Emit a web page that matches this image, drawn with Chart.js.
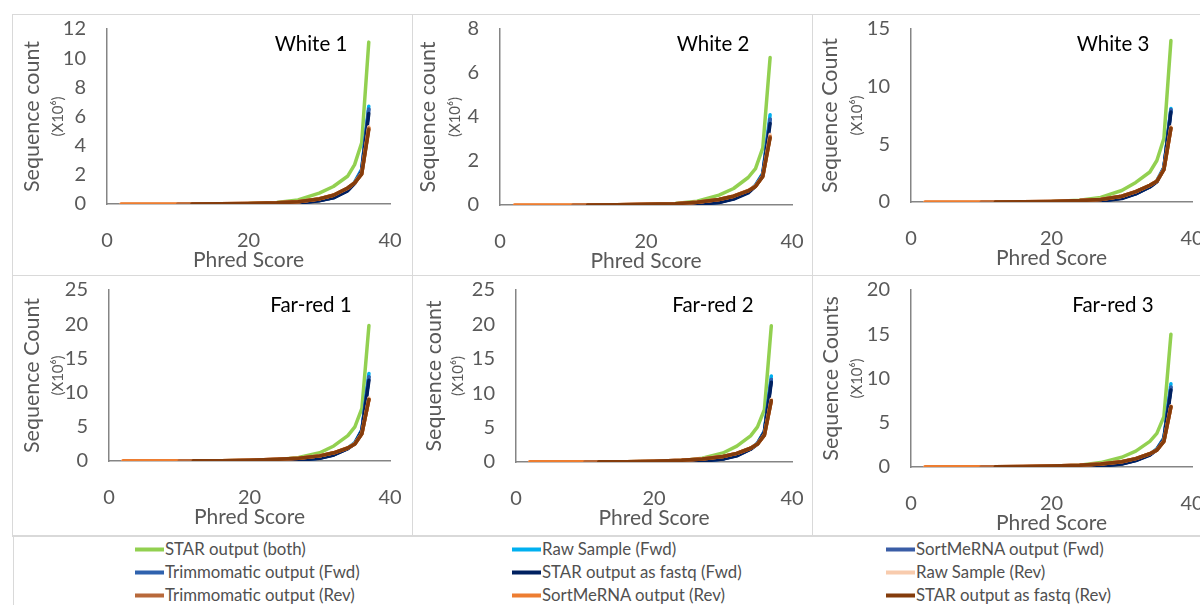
<!DOCTYPE html>
<html>
<head>
<meta charset="utf-8">
<script src="https://cdn.jsdelivr.net/npm/chart.js@4.4.0/dist/chart.umd.min.js"></script>
<style>
  body { margin: 0; background: #fff; width: 1200px; height: 605px; overflow: hidden; position: relative; font-family: Lato, "Open Sans", sans-serif; }
  .panel { position: absolute; width: 401px; height: 262px; border: 1px solid #d9d9d9; box-sizing: border-box; }
  .panel canvas { position: absolute; left: -1px; top: -1px; }
  #legend { position: absolute; left: 13px; top: 535px; width: 1200px; height: 80px; border: 1px solid #d9d9d9; box-sizing: border-box; }
  .item { position: absolute; font-size: 16.8px; color: #505050; line-height: 19px; white-space: nowrap; transform: translateY(-50%); }
  .item i { display: inline-block; width: 29px; height: 4px; vertical-align: middle; margin-right: 1px; position: relative; top: -1px; }
</style>
</head>
<body>
<div id="legend"></div>

<script>
// Phred score positions sampled from the curves
const phred = [2, 10, 12, 16, 20, 24, 27, 30, 32, 34, 35, 36, 37];

const seriesNames = [
  'STAR output (both)', 'Raw Sample (Fwd)', 'SortMeRNA output (Fwd)',
  'Trimmomatic output (Fwd)', 'STAR output as fastq (Fwd)', 'Raw Sample (Rev)',
  'Trimmomatic output (Rev)', 'SortMeRNA output (Rev)', 'STAR output as fastq (Rev)'
];
const seriesColors = ['#92d050', '#00b0f0', '#3a5da6', '#2f62ae', '#002060', '#f8cbad', '#b8693a', '#ed7d31', '#843c0c'];
// bottom -> top drawing order (index into seriesNames)
const drawOrder = [0, 1, 2, 3, 4, 5, 7, 6, 8];

const panelTitles = ['White 1', 'White 2', 'White 3', 'Far-red 1', 'Far-red 2', 'Far-red 3'];
const yTitles = ['Sequence count', 'Sequence count', 'Sequence Count', 'Sequence Count', 'Sequence count', 'Sequence Counts'];
const yMax = [12, 8, 15, 25, 25, 20];
const yStep = [2, 2, 5, 5, 5, 5];
const xTicks = [0, 20, 40];

// values in millions, one row per series (same order as seriesNames)
const white1 = [
  [null, null, 0, 0.01, 0.03, 0.1, 0.28, 0.75, 1.2, 1.9, 2.7, 4.2, 11.1],
  [null, null, 0, 0, 0.01, 0.03, 0.08, 0.25, 0.45, 0.95, 1.5, 2.4, 6.7],
  [null, null, 0, 0, 0.01, 0.03, 0.08, 0.24, 0.44, 0.93, 1.45, 2.3, 6.5],
  [null, null, 0, 0, 0.01, 0.03, 0.08, 0.24, 0.44, 0.93, 1.45, 2.3, 6.5],
  [null, null, 0, 0, 0.01, 0.02, 0.06, 0.22, 0.42, 0.9, 1.4, 2.2, 6.2],
  [0, 0, 0, 0.01, 0.03, 0.08, 0.16, 0.36, 0.62, 1.1, 1.47, 2.1, 5.3],
  [null, 0, 0, 0.01, 0.03, 0.08, 0.16, 0.36, 0.6, 1.08, 1.45, 2.08, 5.2],
  [0, 0, 0, 0.01, 0.03, 0.08, 0.16, 0.35, 0.6, 1.08, 1.45, 2.05, 5.2],
  [null, null, 0, 0.01, 0.03, 0.08, 0.15, 0.35, 0.6, 1.1, 1.45, 2.05, 5.1]
];
const white2 = [
  [null, null, 0, 0.01, 0.02, 0.07, 0.17, 0.45, 0.75, 1.25, 1.65, 2.6, 6.7],
  [null, null, 0, 0, 0.01, 0.02, 0.04, 0.13, 0.3, 0.6, 0.9, 1.45, 4.1],
  [null, null, 0, 0, 0.01, 0.02, 0.04, 0.12, 0.29, 0.58, 0.88, 1.4, 3.9],
  [null, null, 0, 0, 0.01, 0.02, 0.04, 0.12, 0.29, 0.58, 0.88, 1.4, 3.9],
  [null, null, 0, 0, 0.01, 0.01, 0.03, 0.11, 0.27, 0.55, 0.85, 1.35, 3.7],
  [0, 0, 0, 0.01, 0.03, 0.06, 0.12, 0.26, 0.41, 0.66, 0.86, 1.32, 3.2],
  [null, 0, 0, 0.01, 0.03, 0.06, 0.12, 0.25, 0.4, 0.65, 0.85, 1.3, 3.1],
  [0, 0, 0, 0.01, 0.03, 0.06, 0.12, 0.25, 0.4, 0.65, 0.85, 1.3, 3.1],
  [null, null, 0, 0.01, 0.03, 0.06, 0.12, 0.25, 0.4, 0.64, 0.84, 1.3, 3.05]
];
const white3 = [
  [null, null, 0, 0.01, 0.04, 0.15, 0.4, 1.0, 1.7, 2.6, 3.6, 5.5, 14.0],
  [null, null, 0, 0, 0.01, 0.05, 0.1, 0.35, 0.75, 1.35, 1.85, 3.0, 8.1],
  [null, null, 0, 0, 0.01, 0.05, 0.1, 0.34, 0.73, 1.32, 1.8, 2.95, 8.0],
  [null, null, 0, 0, 0.01, 0.05, 0.1, 0.34, 0.73, 1.32, 1.8, 2.95, 8.0],
  [null, null, 0, 0, 0.01, 0.04, 0.08, 0.3, 0.7, 1.3, 1.75, 2.9, 7.8],
  [0, 0, 0, 0.02, 0.05, 0.12, 0.23, 0.5, 0.9, 1.45, 1.85, 2.85, 6.5],
  [null, 0, 0, 0.02, 0.05, 0.12, 0.22, 0.5, 0.9, 1.45, 1.8, 2.8, 6.4],
  [0, 0, 0, 0.02, 0.05, 0.12, 0.22, 0.5, 0.9, 1.45, 1.8, 2.8, 6.4],
  [null, null, 0, 0.02, 0.05, 0.12, 0.22, 0.5, 0.9, 1.45, 1.8, 2.8, 6.4]
];
const farRed1 = [
  [null, null, 0, 0.02, 0.08, 0.2, 0.5, 1.2, 2.2, 3.7, 5.0, 7.7, 19.8],
  [null, null, 0.01, 0.02, 0.05, 0.1, 0.15, 0.45, 0.95, 1.9, 2.7, 4.6, 12.8],
  [null, null, 0.01, 0.02, 0.05, 0.1, 0.14, 0.43, 0.92, 1.85, 2.6, 4.5, 12.3],
  [null, null, 0.01, 0.02, 0.05, 0.1, 0.14, 0.43, 0.92, 1.85, 2.6, 4.5, 12.3],
  [null, null, 0.01, 0.02, 0.04, 0.08, 0.12, 0.4, 0.88, 1.8, 2.55, 4.4, 11.8],
  [0.02, 0.02, 0.02, 0.05, 0.12, 0.25, 0.42, 0.78, 1.22, 1.95, 2.55, 4.05, 9.2],
  [null, 0.02, 0.02, 0.05, 0.12, 0.25, 0.4, 0.75, 1.2, 1.9, 2.5, 4.0, 9.0],
  [0.02, 0.02, 0.02, 0.05, 0.12, 0.25, 0.4, 0.75, 1.2, 1.9, 2.5, 4.0, 9.0],
  [null, null, 0.02, 0.05, 0.12, 0.25, 0.4, 0.75, 1.2, 1.9, 2.5, 4.0, 9.0]
];
const farRed2 = [
  [null, null, 0, 0.02, 0.08, 0.2, 0.55, 1.3, 2.3, 3.8, 5.1, 7.6, 19.8],
  [null, null, 0.01, 0.02, 0.05, 0.1, 0.16, 0.48, 1.0, 1.95, 2.75, 4.5, 12.5],
  [null, null, 0.01, 0.02, 0.05, 0.1, 0.15, 0.45, 0.95, 1.9, 2.7, 4.4, 12.0],
  [null, null, 0.01, 0.02, 0.05, 0.1, 0.15, 0.45, 0.95, 1.9, 2.7, 4.4, 12.0],
  [null, null, 0.01, 0.02, 0.04, 0.08, 0.13, 0.42, 0.9, 1.85, 2.6, 4.3, 11.6],
  [0.02, 0.02, 0.02, 0.05, 0.12, 0.25, 0.46, 0.82, 1.27, 2.05, 2.65, 3.95, 9.1],
  [null, 0.02, 0.02, 0.05, 0.12, 0.25, 0.45, 0.8, 1.25, 2.0, 2.6, 3.9, 8.9],
  [0.02, 0.02, 0.02, 0.05, 0.12, 0.25, 0.45, 0.8, 1.25, 2.0, 2.6, 3.9, 8.9],
  [null, null, 0.02, 0.05, 0.12, 0.25, 0.45, 0.8, 1.25, 2.0, 2.6, 3.9, 8.9]
];
const farRed3 = [
  [null, null, 0, 0.02, 0.06, 0.2, 0.5, 1.1, 1.8, 2.9, 3.8, 5.7, 15.0],
  [null, null, 0.01, 0.02, 0.04, 0.08, 0.12, 0.38, 0.8, 1.45, 2.05, 3.3, 9.4],
  [null, null, 0.01, 0.02, 0.04, 0.08, 0.11, 0.36, 0.76, 1.4, 2.0, 3.2, 9.0],
  [null, null, 0.01, 0.02, 0.04, 0.08, 0.11, 0.36, 0.76, 1.4, 2.0, 3.2, 9.0],
  [null, null, 0.01, 0.02, 0.03, 0.07, 0.1, 0.33, 0.72, 1.35, 1.95, 3.1, 8.7],
  [0.02, 0.02, 0.02, 0.05, 0.1, 0.2, 0.36, 0.62, 0.97, 1.52, 1.92, 2.95, 6.9],
  [null, 0.02, 0.02, 0.05, 0.1, 0.2, 0.35, 0.6, 0.95, 1.5, 1.9, 2.9, 6.8],
  [0.02, 0.02, 0.02, 0.05, 0.1, 0.2, 0.35, 0.6, 0.95, 1.5, 1.9, 2.9, 6.8],
  [null, null, 0.02, 0.05, 0.1, 0.2, 0.35, 0.6, 0.95, 1.5, 1.9, 2.9, 6.8]
];
const panelData = [white1, white2, white3, farRed1, farRed2, farRed3];

// panel placement on the page and plot area inside each panel
const panelLayout = [
  { left: 12,  top: 14,  plot: [95, 15, 378, 190],  yTitleDx: -75, subDx: -49 },
  { left: 412, top: 14,  plot: [88, 15, 380, 191],  yTitleDx: -72, subDx: -45 },
  { left: 812, top: 14,  plot: [99, 15, 380, 188],  yTitleDx: -81, subDx: -54 },
  { left: 12,  top: 275, plot: [97, 15, 378, 186],  yTitleDx: -77, subDx: -51 },
  { left: 412, top: 275, plot: [104, 15, 380, 187], yTitleDx: -82, subDx: -58 },
  { left: 812, top: 275, plot: [99, 15, 380, 192],  yTitleDx: -80, subDx: -54 }
];

const W = 400, H = 261;

const panelText = {
  id: 'panelText',
  afterDraw(chart, args, o) {
    const { ctx, chartArea: a } = chart;
    ctx.save();
    ctx.textAlign = 'center';
    ctx.textBaseline = 'middle';
    ctx.fillStyle = '#000';
    ctx.font = '20.5px Lato';
    ctx.fillText(o.title, a.right - 79, a.top + 15);

    ctx.fillStyle = '#595959';
    ctx.font = '21px Lato';
    ctx.fillText('Phred Score', (a.left + a.right) / 2, a.bottom + 56);

    ctx.translate(a.left + o.yTitleDx, (a.top + a.bottom) / 2);
    ctx.rotate(-Math.PI / 2);
    ctx.font = '21.5px Lato';
    ctx.fillText(o.yTitle, 0, 0);
    ctx.font = '15px Lato';
    ctx.fillText('(X10\u2076)', 0, o.subDx - o.yTitleDx);
    ctx.restore();
  }
};

panelLayout.forEach((p, k) => {
  const div = document.createElement('div');
  div.className = 'panel';
  div.style.left = p.left + 'px';
  div.style.top = p.top + 'px';
  const canvas = document.createElement('canvas');
  canvas.width = W;
  canvas.height = H;
  div.appendChild(canvas);
  document.body.appendChild(div);

  const rows = panelData[k];
  const datasets = drawOrder.map((s, rank) => ({
    label: seriesNames[s],
    data: phred.map((x, i) => ({ x: x, y: rows[s][i] })),
    borderColor: seriesColors[s],
    backgroundColor: seriesColors[s],
    borderWidth: 3.5,
    pointRadius: 0,
    tension: 0,
    borderJoinStyle: 'round',
    borderCapStyle: 'round',
    order: drawOrder.length - rank
  }));

  const plotW = p.plot[0], plotH = H - p.plot[3];
  new Chart(canvas.getContext('2d'), {
    type: 'line',
    data: { datasets: datasets },
    plugins: [panelText],
    options: {
      responsive: false,
      animation: false,
      layout: { padding: { left: 0, top: p.plot[1], right: W - p.plot[2], bottom: 0 } },
      plugins: {
        legend: { display: false },
        tooltip: { enabled: false },
        panelText: { title: panelTitles[k], yTitle: yTitles[k], yTitleDx: p.yTitleDx, subDx: p.subDx }
      },
      scales: {
        x: {
          type: 'linear',
          min: 0, max: 40,
          afterFit: s => { s.height = plotH; },
          afterBuildTicks: s => { s.ticks = xTicks.map(v => ({ value: v })); },
          grid: { display: true, drawOnChartArea: false, drawTicks: true, tickLength: 25, tickColor: 'rgba(0,0,0,0)' },
          border: { display: true, color: '#858585', width: 1.5 },
          ticks: { padding: 0, color: '#595959', font: { family: 'Lato', size: 20 }, maxRotation: 0, autoSkip: false }
        },
        y: {
          min: 0, max: yMax[k],
          afterFit: s => { s.width = plotW; },
          grid: { display: true, drawOnChartArea: false, drawTicks: true, tickLength: 21, tickColor: 'rgba(0,0,0,0)' },
          border: { display: true, color: '#858585', width: 1.5 },
          ticks: { stepSize: yStep[k], padding: 0, color: '#595959', font: { family: 'Lato', size: 20 } }
        }
      }
    }
  });
});

// shared legend, three columns, row by row
const legend = document.getElementById('legend');
const colLeft = [121, 498, 872];
const rowTop = [12, 35, 58];
seriesNames.forEach((name, i) => {
  const el = document.createElement('div');
  el.className = 'item';
  el.style.left = colLeft[i % 3] + 'px';
  el.style.top = rowTop[Math.floor(i / 3)] + 'px';
  el.innerHTML = '<i style="background:' + seriesColors[i] + '"></i>' + name;
  legend.appendChild(el);
});
</script>
</body>
</html>
